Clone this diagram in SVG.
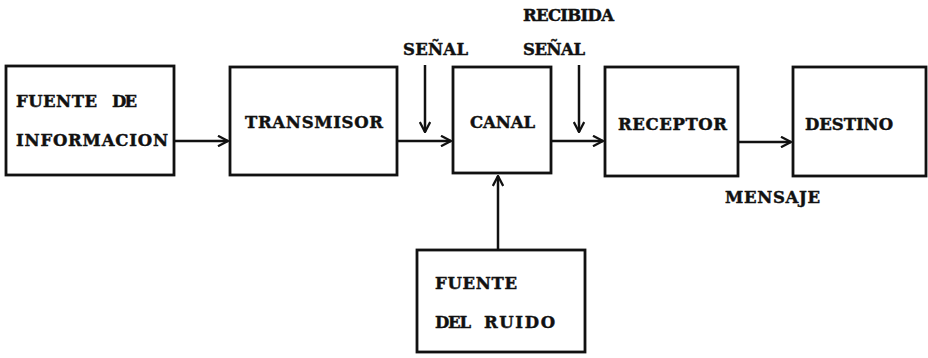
<svg xmlns="http://www.w3.org/2000/svg" width="928" height="358" viewBox="0 0 928 358">
<style>
.box{fill:none;stroke:#111;stroke-width:2.8}
.t{font-family:"DejaVu Serif","Liberation Serif",serif;font-weight:bold;font-size:16.5px;fill:#111;stroke:#111;stroke-width:0.45}
.c{stroke:#111;stroke-width:2.5;fill:none}
</style>
<defs>
<marker id="ah" viewBox="0 0 12 12" refX="11" refY="6" markerWidth="12" markerHeight="12" markerUnits="userSpaceOnUse" orient="auto">
<path d="M1,0.8 L11,6 L1,11.2" fill="none" stroke="#111" stroke-width="2.3"/>
</marker>
</defs>
<rect width="928" height="358" fill="#fff"/>
<g id="fuente-informacion">
<rect class="box" x="6" y="66" width="168" height="109"/>
<text class="t" x="16" y="107" textLength="81" lengthAdjust="spacing">FUENTE</text>
<text class="t" x="112" y="107" textLength="25" lengthAdjust="spacing">DE</text>
<text class="t" x="16" y="146" textLength="152" lengthAdjust="spacing">INFORMACION</text>
</g>
<g id="transmisor">
<rect class="box" x="230" y="67" width="167" height="108"/>
<text class="t" x="245" y="128" textLength="138" lengthAdjust="spacing">TRANSMISOR</text>
</g>
<g id="canal">
<rect class="box" x="453" y="67" width="98" height="106"/>
<text class="t" x="470" y="128" textLength="65" lengthAdjust="spacing">CANAL</text>
</g>
<g id="receptor">
<rect class="box" x="605" y="67" width="133" height="109"/>
<text class="t" x="618" y="130" textLength="109" lengthAdjust="spacing">RECEPTOR</text>
</g>
<g id="destino">
<rect class="box" x="793" y="67" width="133" height="109"/>
<text class="t" x="805" y="130" textLength="88" lengthAdjust="spacing">DESTINO</text>
</g>
<g id="fuente-ruido">
<rect class="box" x="417" y="250" width="168" height="102"/>
<text class="t" x="435" y="289" textLength="82" lengthAdjust="spacing">FUENTE</text>
<text class="t" x="435" y="328" textLength="36" lengthAdjust="spacing">DEL</text>
<text class="t" x="484" y="328" textLength="71" lengthAdjust="spacing">RUIDO</text>
</g>
<g id="labels">
<text class="t" x="403" y="55" textLength="65" lengthAdjust="spacing">SEÑAL</text>
<text class="t" x="523" y="55" textLength="62" lengthAdjust="spacing">SEÑAL</text>
<text class="t" x="523" y="21" textLength="91" lengthAdjust="spacing">RECIBIDA</text>
<text class="t" x="725" y="203" textLength="95" lengthAdjust="spacing">MENSAJE</text>
</g>
<g id="connectors">
<line class="c" x1="175" y1="141" x2="228" y2="141" marker-end="url(#ah)"/>
<line class="c" x1="398" y1="141" x2="451" y2="141" marker-end="url(#ah)"/>
<line class="c" x1="552" y1="141" x2="603" y2="141" marker-end="url(#ah)"/>
<line class="c" x1="739" y1="142" x2="791" y2="142" marker-end="url(#ah)"/>
<line class="c" x1="425" y1="65" x2="425" y2="132" marker-end="url(#ah)"/>
<line class="c" x1="579" y1="65" x2="579" y2="132" marker-end="url(#ah)"/>
<line class="c" x1="498" y1="249" x2="498" y2="176" marker-end="url(#ah)"/>
</g>
</svg>
